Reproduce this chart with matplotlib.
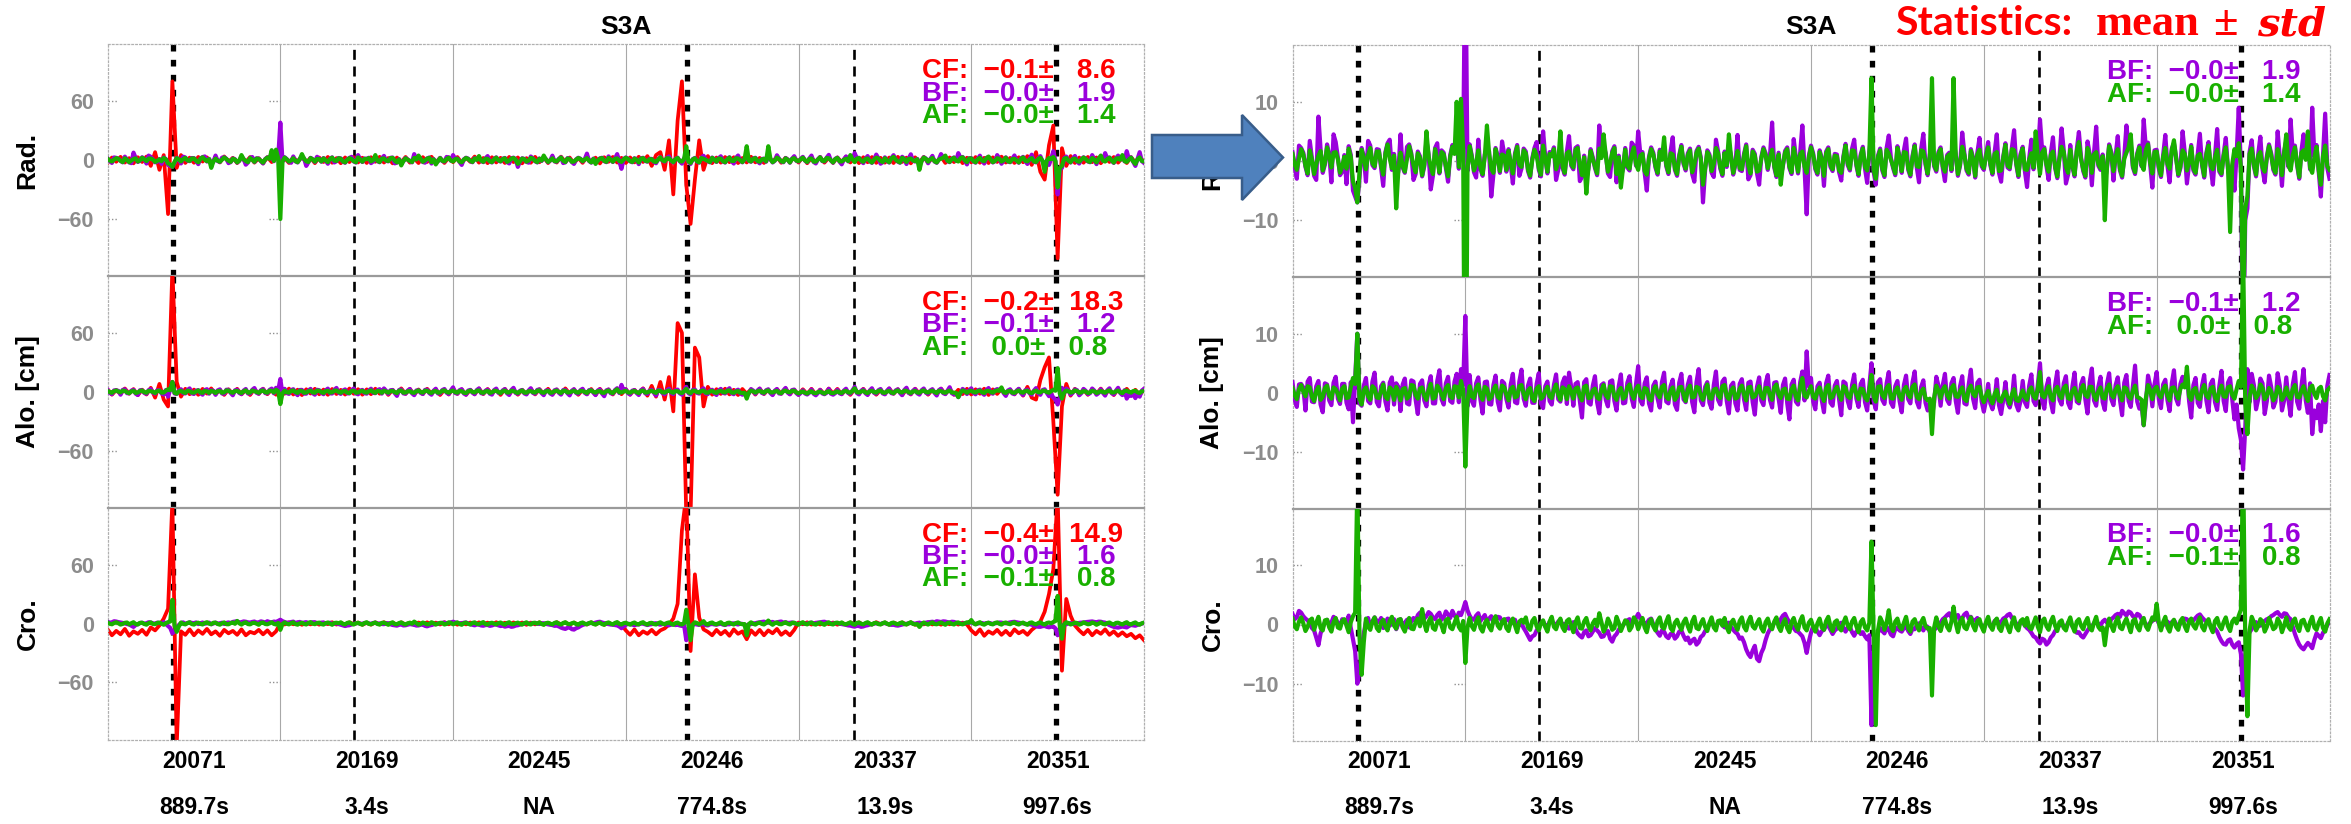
import numpy as np
import matplotlib
matplotlib.use("Agg")
import matplotlib.pyplot as plt
from matplotlib.patches import Polygon
from matplotlib.transforms import blended_transform_factory

plt.rcParams['lines.scale_dashes'] = False
plt.rcParams['font.family'] = ['Liberation Sans', 'DejaVu Sans']
plt.rcParams['axes.unicode_minus'] = True

# ---------------- data ----------------
panel_title = "S3A"
component_labels = ["Rad.", "Alo. [cm]", "Cro."]
day_labels = ["20071", "20169", "20245", "20246", "20337", "20351"]
duration_labels = ["889.7s", "3.4s", "NA", "774.8s", "13.9s", "997.6s"]
event_x = [0.38, 1.425, 3.355, 4.32, 5.49]
event_thick = [True, False, True, False, True]

cf_mean = [-0.1, -0.2, -0.4]
cf_std = [8.6, 18.3, 14.9]
bf_mean = [-0.0, -0.1, -0.0]
bf_std = [1.9, 1.2, 1.6]
af_mean = [-0.0, 0.0, -0.1]
af_std = [1.4, 0.8, 0.8]

# ---- radial component ----
cf_rad = [
 -3.0, 2.5, -1.8, 3.2, -2.6, 1.9, -3.4, 2.8, -2.0, 3.5,
 -6.0, 8.0, -10.0, 5.0, -55.0, 80.0, -8.0, 5.0, -3.0, 2.4,
 -2.8, 3.1, -1.6, 2.7, -3.3, 2.0, -2.5, 3.6, -1.9, 2.2,
 -3.1, 2.6, -2.2, 3.0, -2.7, 1.8, -3.5, 2.9, -2.1, 3.3,
 -2.4, 2.0, -3.0, 2.7, -1.7, 3.4, -2.6, 2.2, -3.2, 2.5,
 -2.0, 3.1, -2.8, 1.9, -3.3, 2.6, -2.1, 3.0, -2.5, 2.3,
 -3.0, 2.8, -1.8, 3.2, -2.6, 2.0, -3.4, 2.5, -2.2, 3.1,
 -2.7, 1.7, -3.1, 2.9, -2.0, 3.3, -2.4, 2.1, -3.0, 2.6,
 -2.2, 3.0, -2.9, 2.3, -1.9, 3.5, -2.7, 2.0, -3.2, 2.8,
 -2.5, 2.2, -3.0, 3.1, -2.1, 2.6, -3.4, 1.9, -2.8, 3.2,
 -2.3, 2.7, -3.1, 2.0, -2.6, 3.4, -2.0, 2.5, -3.3, 2.1,
 -2.9, 3.0, -2.2, 2.4, -3.5, 2.8, -1.8, 3.1, -2.6, 2.2,
 -3.0, 2.6, -2.4, 3.3, -2.0, 4.0, -6.0, 5.0, 8.0, -10.0,
 20.0, -35.0, 40.0, 80.0, -25.0, -65.0, -20.0, 20.0, -10.0, 4.0,
 -3.2, 2.5, -2.7, 3.0, -2.2, 2.8, -3.1, 2.0, -2.5, 3.3,
 -2.4, 2.1, -3.0, 2.7, -1.9, 3.2, -2.8, 2.3, -2.2, 3.0,
 -2.6, 2.9, -3.3, 2.2, -2.0, 3.1, -2.7, 2.4, -3.0, 2.6,
 -2.1, 3.4, -2.5, 2.0, -3.2, 2.8, -2.3, 3.0, -2.9, 2.2,
 -2.7, 2.5, -3.1, 3.2, -2.0, 2.4, -3.4, 2.7, -2.2, 3.1,
 -2.8, 2.0, -2.5, 3.3, -3.0, 2.6, -2.1, 2.9, -3.2, 2.3,
 -2.4, 3.0, -2.8, 2.2, -3.1, 2.7, -2.0, 3.4, -2.6, 2.1,
 -3.0, 2.8, -2.3, 4.0, -5.0, 8.0, -12.0, -20.0, 15.0, 35.0,
 -100.0, 12.0, -6.0, 4.0, -3.0, 2.5, -2.8, 3.1, -2.2, 2.6,
 -3.3, 2.4, -2.0, 3.0, -2.7, 2.2, -3.1, 2.9, -2.5, 3.2,
 -2.0]

bf_rad = [
 1.5, -1.0, -3.0, 2.6, 2.2, 1.4, -1.0, -2.4, 3.4, 0.5, -2.5, -3.2, 7.5, 2.0, -2.0, -0.6, 2.8, 1.1, -3.6, 4.5,
 3.2, 0.6, -2.4, -1.8, 1.0, -3.9, 2.5, 1.0, -5.0, -6.0, -7.0, -3.0, 2.2, 0.8, -3.5, 3.4, 2.6, -0.7, -1.2, 2.0,
 1.9, -1.1, -4.2, 1.5, 3.0, 3.6, -1.5, 1.2, -3.0, -1.8, 4.5, -1.1, -2.0, 2.4, 2.8, 1.3, -3.2, -2.2, 1.6, 0.8,
 -2.6, -0.9, 3.5, 1.1, -4.8, -2.5, 2.2, 3.0, -2.1, 1.8, 1.4, -1.2, -3.5, 1.0, 2.7, 1.5, 4.0, -1.3, 6.0, 2.1,
 38.0, -1.7, 2.8, 0.9, -1.9, -2.8, 3.6, -1.4, -2.5, 1.1, 2.0, 1.6, -6.0, -2.3, 2.2, 0.8, -2.0, 3.3, 1.2, -1.8,
 2.0, -0.6, -3.8, 1.3, 2.7, -2.5, -1.3, 2.1, 1.6, -1.7, -2.8, 0.5, 2.2, 3.2, -1.5, -2.6, 5.0, 0.7, -2.1, 1.5,
 1.1, 2.3, -3.2, -1.5, 3.0, -1.2, -2.3, 1.6, 4.2, -0.8, -1.4, 2.2, 2.5, -3.4, -2.7, 0.9, -3.0, -1.3, 2.0, 0.6,
 -1.2, -2.4, 6.0, 0.8, 2.5, 1.3, -2.1, -2.7, 1.7, 2.5, -3.6, 0.9, -2.5, -1.4, 2.2, -1.1, -1.6, 3.1, 2.6, -0.8,
 5.0, 1.2, 1.5, -2.0, -5.0, 0.7, 2.3, 1.4, -1.1, -2.3, 1.9, 0.5, 2.5, -0.9, -2.2, 1.6, 4.0, -1.5, -2.5, 1.0,
 2.7, -0.5, -1.6, 1.3, 2.1, -2.2, -3.5, 1.7, 2.4, 0.6, -7.0, -1.5, 1.8, 1.1, -2.0, -2.7, 3.6, 1.6, -1.3, -2.5,
 1.6, -1.0, 2.6, 0.9, -2.3, -0.6, 4.4, -1.5, -1.7, 1.2, 2.8, -3.1, -2.4, 1.9, 1.2, -2.1, -4.0, 0.7, 2.3, 1.3,
 -1.5, 0.8, 6.5, -1.1, -2.7, 1.4, -2.5, -0.9, 1.7, 2.3, -1.2, -2.2, 3.7, 0.6, -2.1, 1.5, 6.0, -1.2, -9.0, 0.9,
 2.6, 1.3, -1.4, -2.3, 1.8, 0.5, -4.2, 1.6, 2.3, -1.0, -1.7, 1.2, 1.1, -1.9, -3.3, 0.8, 2.9, -0.7, -1.6, 2.1,
 3.6, -0.8, -2.5, 1.1, 2.4, -1.3, -3.7, 1.5, 5.0, -1.8, -4.0, 0.9, 2.1, -1.6, -2.7, 2.2, 4.3, 0.5, -1.2, -2.4,
 2.5, 0.7, -2.0, 1.8, 3.8, -1.5, -2.6, 0.9, 2.8, -1.2, -3.6, 2.1, 4.6, -0.6, -2.4, 1.1, 3.0, -0.9, -1.8, 1.5,
 2.3, -1.2, -3.4, 1.0, 1.4, -1.7, 3.3, 1.2, -2.5, -0.8, 4.8, 1.3, -1.6, -2.3, 2.0, 0.6, -2.8, 1.4, 3.9, -0.9,
 -1.5, 1.1, 3.2, -0.7, -2.3, 1.5, 4.5, -2.0, -3.5, 0.8, 3.0, -1.1, -1.4, 2.3, 5.2, -0.6, -2.7, 1.2, 2.4, -1.7,
 -4.4, 0.5, 3.6, -1.4, 2.9, 1.0, 7.0, 1.7, 2.3, -0.9, -3.2, 1.3, 4.0, -1.2, -2.9, 0.7, 5.5, 1.8, -3.8, -2.3,
 2.7, -1.0, -2.6, 1.9, 4.9, 0.6, -1.7, -2.8, 3.3, 1.2, -4.1, 1.4, 5.8, -0.8, -1.5, 1.1, -3.5, -1.2, 2.8, 1.5,
 -3.3, 0.9, 4.2, -1.6, -2.8, 0.7, 6.0, 2.6, 3.0, -1.1, -2.2, 1.3, 2.6, -0.9, 7.0, 2.2, 3.1, -0.6, -4.5, 1.8,
 1.9, -1.3, -2.7, 1.0, 4.4, -0.8, -3.6, 2.1, 3.0, 0.7, -2.5, -1.2, 5.0, 1.5, -3.8, -0.5, 2.7, -1.6, -2.3, 1.2,
 4.6, -0.7, -2.8, 1.4, 3.2, -1.1, -4.0, 0.9, 5.4, -1.8, -2.4, 1.2, 3.9, -1.3, -3.3, -0.8, -5.0, 1.1, 9.0, -1.5,
 -35.0, -10.0, -8.0, 1.5, 3.5, -0.9, -2.6, 1.2, 4.1, -1.4, -3.6, 0.8, 2.8, 1.3, -1.5, -2.3, 5.0, 0.6, -4.2, 1.6,
 3.4, -1.0, 7.0, 1.3, 2.6, -0.7, -3.0, 1.7, 4.5, 0.5, 3.8, -1.4, 9.0, 0.9, 2.7, -1.8, -6.0, 1.1, 8.0, -1.2,
 -3.0]

af_rad = [
 1.2, -0.6, -1.5, 0.4, 2.0, 1.1, -0.8, -2.1, 1.8, 0.2, -2.2, -0.5, 0.9, 1.7, -1.6, -0.3, 2.3, 0.8, -1.1, 1.4,
 1.5, 0.3, -2.0, -0.9, 0.7, -1.3, 2.1, 0.6, -3.5, -4.5, -7.0, -2.0, 1.9, 0.5, -1.4, 1.0, 2.2, -0.4, -0.9, 1.6,
 1.6, -0.7, -2.3, 1.2, 2.8, 0.4, -1.2, 0.9, -8.0, -1.5, 1.4, -0.8, -1.8, 0.3, 2.5, 1.0, -0.7, -1.9, 1.3, 0.5,
 -2.4, -0.6, 5.0, 0.8, -1.0, -2.2, 2.0, 0.3, -1.9, 1.5, 1.1, -0.9, -2.6, 0.7, 2.4, 1.2, 10.0, -1.0, 10.5, 1.8,
 -60.0, -1.4, 2.5, 0.6, -1.6, -0.4, 1.8, -1.1, -2.2, 0.8, 6.0, 1.3, -1.3, -2.0, 2.0, 0.5, -1.7, 1.1, 0.9, -1.5,
 1.7, -0.3, -2.1, 1.0, 2.4, -0.6, -1.0, 1.8, 1.3, -1.4, -2.5, 0.2, 1.9, 0.9, -1.2, -2.3, 2.6, 0.4, -1.8, 1.2,
 0.8, 2.0, -1.4, -0.2, 5.0, -0.9, -2.0, 1.3, 1.6, -0.5, -1.1, 1.9, 2.2, -0.7, -2.4, 0.6, -5.5, -1.0, 1.7, 0.3,
 -0.9, -2.1, 2.1, 0.5, 4.5, 1.0, -1.8, -0.4, 1.4, 2.2, -2.2, 0.6, -4.5, -1.1, 1.9, -0.8, -1.3, 1.0, 2.3, -0.5,
 -1.5, 0.9, 1.2, -1.7, -2.3, 0.4, 2.0, 1.1, -0.8, -2.0, 1.6, 0.2, 4.0, -0.6, -1.9, 1.3, 1.1, -1.2, -2.2, 0.7,
 2.4, -0.2, -1.3, 1.0, 1.8, -1.9, -0.6, 1.4, 2.1, 0.3, -4.0, -1.2, 1.5, 0.8, -1.7, -0.4, 2.2, 1.3, -1.0, -2.2,
 1.3, -0.7, 4.5, 0.6, -2.0, -0.3, 1.7, -1.2, -1.4, 0.9, 2.5, -0.8, -2.1, 1.6, 0.9, -1.8, -1.6, 0.4, 2.0, 1.0,
 -1.2, 0.5, 1.9, -0.8, -2.4, 1.1, -4.0, -0.6, 1.4, 2.0, -0.9, -1.9, 2.2, 0.3, -1.8, 1.2, 1.6, -0.9, -2.0, 0.6,
 2.3, 1.0, -1.1, -2.0, 1.5, 0.2, -2.5, 1.3, 2.0, -0.7, -1.4, 0.9, 0.8, -1.6, -2.0, 0.5, 2.6, -0.4, -1.3, 1.8,
 1.7, -0.5, -2.2, 0.8, 2.1, -1.0, -1.6, 1.2, 14.0, -1.5, -3.0, 0.6, 1.8, -1.3, -2.4, 1.9, 1.2, 0.2, -0.9, -2.1,
 2.2, 0.4, -1.7, 1.5, 1.4, -1.2, -2.3, 0.6, 2.5, -0.9, -1.0, 1.8, 1.6, -0.3, -2.1, 0.8, 14.0, -0.6, -1.5, 1.2,
 2.0, -0.9, -1.8, 0.7, 1.1, -1.4, 14.0, 0.9, -2.2, -0.5, 2.4, 1.0, -1.3, -2.0, 1.7, 0.3, -2.5, 1.1, 1.9, -0.6,
 -1.2, 0.8, 2.3, -0.4, -2.0, 1.2, 1.5, -1.7, -1.6, 0.5, 2.7, -0.8, -1.1, 2.0, 1.8, -0.3, -2.4, 0.9, 2.1, -1.4,
 -1.5, 0.2, 1.3, -1.1, 5.0, 0.7, -2.2, 1.4, 2.0, -0.6, -1.8, 1.0, 1.6, -0.9, -2.6, 0.4, 2.4, 1.5, -1.0, -2.0,
 1.9, -0.7, -2.3, 1.6, 3.2, 0.3, -1.4, -2.5, 2.2, 0.9, -2.0, 1.1, 1.5, -0.5, -1.2, 0.8, -10.0, -0.9, 2.5, 1.2,
 -1.7, 0.6, 2.0, -1.3, -2.5, 0.4, 1.4, 2.3, 4.5, -0.8, -1.9, 1.0, 2.3, -0.6, -1.5, 1.9, 2.8, -0.3, -2.1, 1.5,
 1.6, -1.0, -2.4, 0.7, 2.2, -0.5, -1.3, 1.8, 3.5, 0.4, -2.2, -0.9, 1.8, 1.2, -1.6, -0.2, 2.4, -1.3, -2.0, 0.9,
 1.2, -0.4, -2.5, 1.1, 2.6, -0.8, -1.4, 0.6, 1.9, -1.5, -2.1, 0.9, 2.3, -1.0, -12.0, -0.5, 2.0, 0.8, 3.0, -1.2,
 -28.0, -8.0, -6.0, 1.2, 2.1, -0.6, -2.3, 0.9, 1.5, -1.1, -1.8, 0.5, 2.5, 1.0, -1.2, -2.0, 2.0, 0.3, -2.4, 1.3,
 4.5, -0.7, -1.6, 1.0, 2.3, -0.4, -2.7, 1.4, 1.8, 0.2, 5.0, -1.1, -2.0, 0.6, 2.4, -1.5, -4.0, 0.8, 2.6, -0.9,
 -1.5]

# ---- along-track component ----
cf_alo = [
 2.6, -3.0, 1.8, -2.4, 3.3, -2.0, 2.7, -3.5, 2.1, -2.8,
 4.0, -6.0, 8.0, -8.0, -15.0, 125.0, 10.0, -5.0, 3.0, -2.5,
 2.2, -3.1, 2.9, -1.9, 3.4, -2.6, 2.0, -3.2, 2.5, -2.1,
 3.0, -2.7, 1.7, -3.3, 2.8, -2.2, 3.1, -2.5, 2.3, -3.0,
 2.7, -2.0, 3.2, -2.8, 2.1, -3.4, 2.5, -1.8, 3.0, -2.6,
 2.2, -3.1, 2.8, -2.3, 1.9, -2.9, 3.3, -2.1, 2.6, -3.0,
 2.4, -2.5, 3.1, -2.0, 2.7, -3.2, 2.0, -2.7, 3.4, -2.2,
 2.9, -3.0, 2.3, -2.4, 3.0, -1.9, 2.6, -3.3, 2.1, -2.8,
 3.2, -2.2, 2.5, -3.1, 2.0, -2.6, 3.3, -2.4, 2.8, -2.0,
 2.2, -3.2, 2.9, -2.5, 2.4, -3.0, 2.0, -2.3, 3.1, -2.7,
 2.6, -2.1, 3.0, -2.9, 2.3, -2.4, 3.4, -2.0, 2.5, -3.1,
 2.1, -2.6, 2.8, -3.3, 3.0, -2.2, 2.4, -2.8, 3.2, -2.5,
 2.7, -3.0, 2.0, -2.4, 3.5, -4.0, 6.0, -5.0, 10.0, -8.0,
 15.0, -20.0, 70.0, 60.0, -125.0, -125.0, 45.0, 35.0, -15.0, 5.0,
 -3.0, 2.6, -2.2, 3.1, -2.7, 2.0, -3.3, 2.8, -2.1, 2.4,
 -2.9, 3.2, -2.4, 2.2, -3.0, 2.7, -2.0, 3.4, -2.6, 2.1,
 -3.1, 2.5, -2.3, 3.0, -2.8, 2.2, -2.5, 3.3, -2.0, 2.9,
 -2.6, 2.1, -3.2, 2.8, -2.2, 3.0, -2.7, 2.4, -3.0, 2.0,
 -2.5, 3.3, -2.1, 2.6, -3.4, 2.3, -2.8, 3.1, -2.0, 2.7,
 -3.0, 2.2, -2.6, 3.2, -2.3, 2.9, -3.1, 2.0, -2.4, 3.0,
 -2.8, 2.5, -2.0, 3.1, -3.3, 2.4, -2.2, 2.8, -3.0, 2.1,
 -2.7, 3.0, -4.0, 5.0, -6.0, -8.0, 12.0, 25.0, 35.0, -30.0,
 -105.0, -15.0, 8.0, -4.0, 3.0, -2.6, 2.2, -3.1, 2.7, -2.0,
 3.2, -2.8, 2.3, -3.4, 2.6, -2.1, 3.0, -2.5, 2.0, -3.5,
 2.4]

bf_alo = [
 1.8, -1.2, -2.4, 1.4, 1.5, 0.9, -3.0, 1.9, 2.5, -1.5, -1.6, 1.1, 2.0, -2.0, -3.3, 1.6, 1.4, -1.3, -2.1, 1.7,
 2.7, -1.0, -1.9, 1.5, 1.5, -1.7, -2.8, 1.8, -5.0, 2.3, 10.0, -1.8, -2.2, 1.2, 2.5, -1.4, -1.8, 1.9, 3.4, -1.6,
 -2.3, 1.1, 1.7, -1.5, -3.0, 1.7, 2.6, -2.0, 1.6, 1.0, -3.1, 1.4, 2.4, -1.8, -2.0, 2.1, 1.9, -1.2, -3.6, 1.5,
 2.1, -1.3, -2.3, 1.2, 2.8, -1.8, -1.8, 2.0, 3.8, -1.1, -2.0, 1.6, 2.7, -1.4, -1.7, 1.9, 3.2, -1.6, 4.0, 1.3,
 13.0, -2.3, 3.0, -1.4, -2.2, 1.6, 2.6, -1.2, -3.5, 1.8, 1.9, -1.9, -2.0, 1.3, 2.9, -1.5, -3.0, 2.0, 1.6, -1.1,
 -2.5, 1.4, 3.2, -1.6, -1.8, 1.9, 3.9, -1.0, -2.2, 1.2, 2.4, -1.7, -1.7, 1.5, 3.3, -1.8, -2.6, 1.1, 1.9, -1.4,
 -2.0, 1.3, 3.1, -1.1, -1.5, 1.7, 2.6, -1.9, 3.4, 1.0, -2.2, 1.5, 1.8, -1.4, -4.2, 1.8, 2.3, -1.7, -2.0, 1.2,
 2.8, -1.6, -3.5, 1.3, 1.6, -1.2, -2.3, 1.9, 2.1, -1.4, -3.0, 1.1, 3.1, -1.8, -1.7, 1.7, 2.8, -1.0, -2.4, 1.4,
 4.5, -1.3, -2.0, 1.6, 2.6, -1.8, -3.0, 1.2, 1.9, -1.0, -2.5, 1.8, 3.4, -1.5, -1.8, 1.1, 2.2, -2.0, -2.9, 1.7,
 3.2, -1.1, -1.6, 1.4, 2.7, -1.6, -3.3, 1.8, 4.0, -1.3, -2.1, 1.0, 1.8, -1.7, -2.7, 1.3, 3.6, -1.2, -2.0, 1.9,
 2.4, -1.4, -3.5, 1.2, 1.7, -1.8, -3.0, 1.5, 2.3, -1.1, -2.9, 1.7, 1.9, -1.6, -3.7, 1.0, 2.6, -1.3, -2.1, 1.6,
 3.0, -1.2, -2.5, 1.7, 1.8, -1.0, -3.4, 1.3, 2.4, -1.8, -4.5, 1.4, 2.2, -1.5, -2.0, 1.8, 3.6, -1.3, 7.0, 1.1,
 2.5, -1.5, -2.8, 1.1, 1.7, -1.3, -3.3, 1.6, 2.9, -1.7, -2.2, 1.2, 2.0, -1.1, -3.8, 1.9, 1.6, -1.4, -2.6, 1.3,
 3.1, -1.0, -2.4, 1.5, 2.2, -1.6, -3.0, 1.2, 5.0, -1.4, -2.8, 1.8, 2.3, -1.2, -1.9, 1.6, 3.5, -1.7, -2.4, 1.1,
 2.0, -1.4, -3.3, 1.3, 2.9, -1.1, -1.8, 1.8, 3.6, -1.5, -2.5, 1.0, 2.1, -1.7, -3.0, -1.8, -4.0, -1.6, 2.7, 1.2,
 -2.2, 1.3, 3.2, -1.2, -1.9, 1.6, 2.5, -1.4, -3.4, 1.1, 2.8, -1.8, -2.0, 1.4, 3.9, -1.0, -2.6, 1.7, 2.2, -1.5,
 -3.2, -1.3, 1.5, -1.8, -2.8, -1.0, 2.3, -2.1, -3.6, -1.2, 1.8, -1.7, -2.5, -1.1, 2.9, -2.0, -3.0, -1.4, 2.0, -1.6,
 -2.4, 1.2, 3.1, -1.4, -2.1, 1.5, 5.0, -1.3, -2.7, 1.0, 2.4, -1.6, -3.3, 1.3, 3.6, -1.2, -2.0, 1.6, 2.8, -1.7,
 -2.6, 1.1, 3.4, -1.5, -1.8, 1.4, 2.5, -1.2, -3.5, 1.8, 4.1, -1.3, -2.2, 1.0, 2.7, -1.6, -2.9, 1.5, 3.3, -1.1,
 -2.1, 1.3, 2.6, -1.2, -3.8, 1.7, 3.0, -1.4, -2.4, 1.1, 4.6, -1.5, -2.7, -2.0, -5.5, -1.7, 2.9, 1.2, -2.3, 1.4,
 3.5, -1.1, -2.6, 1.4, 2.2, -1.3, -3.1, 1.6, 3.8, -1.0, -2.0, 1.5, 2.7, 1.7, 3.4, -1.4, -4.2, 1.3, 2.5, -1.7,
 -2.4, 1.2, 3.0, -1.3, -3.3, 1.5, 2.2, -1.6, -2.9, 1.1, 3.7, -1.4, -3.1, 1.7, 2.5, -1.2, -4.5, -2.0, -6.0, -8.0,
 -13.0, -6.0, 4.0, -1.6, 3.2, 1.3, -2.8, -1.1, 2.4, 1.6, -3.6, -1.4, 2.9, 1.0, -2.5, -1.5, 3.3, 1.2, -3.0, -1.3,
 2.6, -1.2, -3.9, 1.4, 3.5, -1.5, -2.7, 1.1, 4.0, -1.3, -3.4, 1.6, -7.0, -3.0, -4.3, -2.0, -6.5, -1.4, -5.0, 1.2,
 3.0]

af_alo = [
 0.8, -0.4, -1.1, 0.6, 1.3, 0.2, -0.6, 1.1, 0.9, -0.7, -1.4, 0.3, 1.0, -1.2, -0.7, 0.8, 1.2, -0.5, -1.0, 0.9,
 0.6, -0.2, -1.3, 0.7, 1.1, -0.9, -0.8, 1.0, 2.5, 1.5, 10.0, -1.0, -2.0, 0.4, 0.9, -0.6, -1.2, 1.1, 0.7, -0.8,
 -0.9, 0.3, 1.4, -0.7, -1.1, 0.9, 0.5, -1.2, 1.0, 0.2, -1.3, 0.6, 0.8, -1.0, -0.6, 1.3, 1.2, -0.4, -1.0, 0.7,
 0.9, -0.5, -1.2, 0.4, 1.5, -1.0, -0.8, 1.2, 0.6, -0.3, -1.1, 0.8, 1.3, -0.6, -0.9, 1.1, 1.0, -0.8, 2.0, 0.5,
 -12.5, -1.5, 1.1, -0.6, -0.9, 0.8, 1.4, -0.4, -1.2, 1.0, 0.7, -1.1, -0.8, 0.5, 1.2, -0.7, -1.0, 1.2, 0.9, -0.3,
 -1.3, 0.6, 1.0, -0.8, -0.6, 1.1, 1.3, -0.2, -1.1, 0.4, 0.8, -0.9, -1.4, 0.7, 1.1, -1.0, -0.7, 0.3, 1.0, -0.6,
 -0.9, 0.5, 1.4, -0.3, -1.2, 0.9, 0.6, -1.1, 1.1, 0.2, -1.0, 0.7, 0.9, -0.6, -1.3, 1.0, 1.2, -0.9, -0.8, 0.4,
 0.7, -0.8, -1.1, 0.5, 1.3, -0.4, -0.9, 1.1, 1.0, -0.6, -1.2, 0.3, 0.8, -1.0, -0.7, 0.9, 1.4, -0.2, -1.0, 0.6,
 1.2, -0.5, -0.9, 0.8, 0.6, -1.0, -1.3, 0.4, 1.1, -0.2, -0.8, 1.0, 1.3, -0.7, -1.1, 0.3, 0.9, -1.2, -0.6, 0.9,
 1.0, -0.3, -1.4, 0.6, 1.2, -0.8, -0.7, 1.0, 0.8, -0.5, -1.2, 0.2, 1.4, -0.9, -1.0, 0.5, 0.7, -0.4, -0.9, 1.1,
 1.3, -0.6, -1.1, 0.4, 0.9, -1.0, -0.8, 0.7, 1.2, -0.3, -1.3, 0.9, 1.0, -0.8, -0.6, 0.2, 1.1, -0.5, -1.0, 0.8,
 0.8, -0.4, -1.2, 0.9, 1.4, -0.2, -0.9, 0.5, 0.7, -1.0, -1.1, 0.6, 1.2, -0.7, -1.3, 1.0, 2.5, -0.5, -0.8, 0.3,
 1.1, -0.7, -1.0, 0.3, 0.9, -0.5, -1.4, 0.8, 1.3, -0.9, -0.7, 0.4, 1.0, -0.3, -1.2, 1.1, 0.8, -0.6, -0.9, 0.5,
 1.2, -0.2, -1.1, 0.7, 0.6, -0.8, -1.3, 0.4, 3.0, -0.6, -1.5, 1.0, 1.1, -0.4, -0.9, 0.8, 1.3, -0.9, -1.0, 0.3,
 0.9, -0.6, -1.2, 0.5, 1.0, -0.3, -0.8, 1.0, 1.4, -0.7, -1.1, 0.2, 0.7, -0.9, -1.3, -1.0, -7.0, -0.8, 1.2, 0.4,
 -0.9, 0.5, 1.1, -0.4, -1.0, 0.8, 1.3, -0.6, -0.7, 0.3, 0.9, -1.0, -1.4, 0.6, 1.2, -0.2, -0.6, 0.9, 1.0, -0.7,
 -1.6, -0.5, 0.3, -1.0, -1.8, -0.2, 0.5, -1.3, -1.5, -0.4, 0.2, -0.9, -1.9, -0.3, 0.6, -1.2, -1.4, -0.6, 0.4, -0.8,
 -1.2, 0.4, 0.9, -0.6, -1.0, 0.7, 3.5, -0.5, -0.8, 0.2, 1.1, -0.8, -1.3, 0.5, 1.0, -0.4, -0.9, 0.8, 1.2, -0.9,
 -1.1, 0.3, 0.8, -0.7, -1.4, 0.6, 1.3, -0.4, -0.7, 1.0, 1.0, -0.5, -1.2, 0.2, 0.9, -0.8, -1.0, 0.7, 1.4, -0.3,
 -0.8, 0.5, 1.1, -0.4, -1.3, 0.9, 0.7, -0.6, -1.0, 0.3, 1.2, -0.7, -0.9, -1.2, -5.5, -0.9, 1.3, 0.4, -1.1, 0.6,
 1.0, -0.3, -0.8, 0.6, 1.2, -0.5, -1.3, 0.8, 0.9, -0.2, -1.0, 0.7, 1.4, 0.9, 4.4, -0.6, -1.2, 0.5, 0.8, -0.9,
 -1.1, 0.4, 1.3, -0.5, -0.9, 0.7, 1.0, -0.8, -1.4, 0.3, 1.2, -0.6, -0.7, 0.9, 1.1, -0.4, -1.0, 0.6, 2.0, 1.0,
 24.0, -2.0, -7.0, -0.8, 1.2, 0.5, -0.9, -0.3, 1.4, 0.8, -1.1, -0.6, 0.8, 0.2, -1.3, -0.7, 1.0, 0.4, -1.2, -0.5,
 0.9, -0.4, -1.0, 0.6, 1.3, -0.7, -0.8, 0.3, 1.1, -0.5, -1.4, 0.8, 1.2, -0.2, -0.9, 0.7, 1.0, -0.6, -1.3, 0.4,
 0.8]

# ---- cross-track component ----
cf_cro = [
 -6.0, -12.0, -7.5, -11.0, -5.5, -12.5, -8.0, -10.5, -6.5, -11.5,
 -4.0, -7.0, -2.0, 5.0, 15.0, 125.0, -125.0, -8.0, -11.5, -6.0,
 -12.0, -7.0, -10.5, -5.5, -11.0, -8.0, -12.5, -6.5, -10.0, -7.5,
 -11.5, -6.0, -12.0, -8.5, -10.0, -6.5, -11.0, -7.0, -12.0, -8.0,
 0.5, -1.0, 1.2, -0.8, 1.0, -1.3, 0.7, -0.9, 1.1, -1.2,
 0.9, -0.7, 1.3, -1.1, 0.8, -1.0, 1.2, -0.6, 1.0, -1.3,
 0.7, -1.2, 1.1, -0.9, 1.3, -0.8, 0.9, -1.1, 1.2, -1.0,
 0.8, -1.3, 1.0, -0.7, 1.2, -1.1, 0.9, -1.0, 1.3, -0.8,
 1.1, -1.2, 0.7, -0.9, 1.0, -1.3, 1.2, -0.8, 0.9, -1.1,
 1.3, -1.0, 0.8, -1.2, 1.1, -0.7, 1.0, -1.3, 0.9, -0.9,
 1.2, -1.1, 0.7, -1.0, 1.3, -0.8, 1.0, -1.2, 0.9, -1.1,
 0.8, -1.0, 1.2, -0.9, 1.1, -1.3, 0.7, -1.0, 1.0, -1.2,
 -7.0, -11.5, -6.0, -12.0, -8.0, -10.5, -6.5, -11.0, -7.0, -5.0,
 -1.0, 5.0, 20.0, 95.0, 130.0, -28.0, 50.0, 6.0, -6.0, -8.5,
 -12.0, -6.5, -11.0, -7.5, -12.5, -6.0, -10.5, -8.0, -16.0, -7.0,
 -11.5, -6.5, -12.0, -7.0, -10.0, -5.5, -11.5, -8.0, -12.0, -6.5,
 1.0, -0.8, 1.2, -1.1, 0.9, -1.0, 1.3, -0.7, 1.0, -1.2,
 0.8, -1.1, 1.1, -0.9, 1.2, -1.3, 0.7, -1.0, 1.3, -0.8,
 1.0, -1.2, 0.9, -0.7, 1.1, -1.0, 1.2, -1.3, 0.8, -0.9,
 1.2, -1.0, 0.7, -1.2, 1.0, -0.8, 1.3, -1.1, 0.9, -1.0,
 -7.0, -11.0, -6.0, -12.5, -8.0, -10.5, -6.5, -11.5, -7.5, -12.0,
 -6.0, -10.0, -7.5, -11.5, -6.5, -3.0, 2.0, 12.0, 30.0, 55.0,
 130.0, -48.0, 25.0, 8.0, -2.0, -7.0, -11.0, -6.5, -12.0, -7.5,
 -10.5, -6.0, -11.5, -8.0, -12.5, -9.0, -13.0, -10.5, -15.0, -12.0,
 -17.0]

bf_cro = [
 1.8, 0.9, 1.2, 2.3, 2.0, 1.4, 1.0, 0.7, 0.2, -0.6, -1.0, -2.2, -3.5, -1.5, -0.5, 0.4, 0.8, -0.2, 0.3, 1.3,
 1.0, 0.2, -0.4, 0.9, 0.6, 0.1, 1.5, -0.6, -2.5, -4.5, -10.0, -8.0, -4.0, -1.5, 0.5, 1.1, -0.3, 0.4, 1.2, 0.6,
 0.4, 1.1, -0.6, 0.3, 1.0, -0.2, 0.2, 0.9, -0.8, 0.1, 0.9, -0.4, 0.3, 0.8, -0.5, 0.6, 1.1, 0.5, 1.6, 2.0,
 2.2, 1.0, 1.4, 2.1, 1.8, 1.2, 0.9, 1.6, 2.0, 0.8, 1.2, 2.2, 1.7, 1.1, 2.3, 1.5, 1.0, 2.0, 1.6, 2.6,
 3.8, 2.4, 1.5, 0.9, 0.8, 1.5, 1.9, 0.6, 1.1, 1.6, 0.5, 1.0, 1.4, 0.3, 0.7, 1.3, 1.2, 0.5, 0.3, 0.9,
 1.0, 0.1, 0.4, 0.8, -0.5, -0.1, 0.2, -0.6, -1.2, -1.9, -2.6, -2.0, -1.8, -1.0, -0.4, 0.2, 0.5, -0.3, -0.2, 0.4,
 0.6, 0.2, -0.3, 0.5, 0.8, -0.2, 0.1, -0.5, -0.7, 0.1, 0.4, -0.8, -1.5, -1.9, -2.2, -1.3, -1.0, -2.0, -1.8, -1.2,
 -0.6, -1.0, -1.4, -2.1, -2.0, -1.3, -1.1, -2.4, -2.9, -2.0, -1.6, -0.9, -0.5, -0.1, 0.3, 0.7, 0.9, 0.2, 0.5, 1.1,
 1.8, 1.1, 0.7, 0.1, 0.2, 0.8, 1.0, 0.0, -0.8, -1.4, -1.9, -1.0, -1.2, -2.0, -2.3, -1.6, -1.5, -2.4, -2.0, -1.2,
 -1.0, -1.9, -2.6, -2.2, -3.2, -2.7, -2.4, -3.4, -3.0, -2.1, -1.8, -1.1, -0.6, 0.1, 0.4, -0.2, -0.3, 0.3, 0.6, -0.1,
 -0.5, 0.2, 0.3, -0.4, -0.9, -1.3, -1.6, -2.4, -2.2, -3.0, -4.2, -5.0, -5.5, -4.4, -3.6, -5.8, -6.2, -4.8, -4.0, -2.6,
 -1.5, -0.8, -0.4, 0.3, 0.5, 0.1, 0.9, 1.5, 1.8, 1.0, 0.4, -0.2, -0.6, -1.1, -1.2, -1.6, -2.0, -3.1, -4.8, -2.9,
 -1.4, -0.3, -0.5, -1.2, -1.8, -1.1, -0.9, -0.1, -0.2, -0.9, -1.6, -1.0, -0.7, 0.1, 0.3, -0.6, -1.2, -0.5, -0.4, -1.3,
 -1.9, -1.2, -0.8, -1.6, -1.3, -2.0, -2.5, -1.8, -17.0, -5.0, -3.0, -1.4, -0.6, -1.1, -1.5, -0.4, -0.9, -1.7, -2.0, -0.8,
 -0.5, -1.0, -1.2, -0.6, -0.3, -1.1, -1.6, -0.7, -0.8, -0.1, 0.2, -0.5, -1.0, -0.2, -0.4, -1.3, -1.8, -0.9, -0.6, 0.1,
 0.3, 0.9, 1.2, 1.6, 1.9, 1.2, 0.8, 1.4, 1.6, 0.7, 1.1, 1.7, 2.0, 1.0, 1.3, 0.6, 0.7, 1.1, 0.2, -0.3,
 -0.4, 0.2, 0.5, -0.3, -0.2, 0.6, 0.9, 0.1, 0.4, 1.0, 1.2, 1.6, 1.8, 1.1, 0.6, 0.2, -0.3, 0.4, 0.5, -0.2,
 -0.6, -0.9, -1.4, -2.0, -2.2, -2.8, -3.2, -2.4, -2.6, -3.4, -3.0, -2.2, -1.8, -1.1, -0.7, -0.1, 0.2, -0.4, -0.5, 0.3,
 0.4, -0.3, -0.8, -1.4, -1.3, -1.9, -2.2, -1.6, -1.0, -0.5, -0.3, 0.2, 0.6, 0.1, -0.2, 0.5, 0.8, 0.3, 0.1, 0.9,
 1.2, 1.6, 1.8, 1.3, 2.3, 1.9, 1.5, 2.2, 2.0, 1.4, 1.1, 1.8, 1.6, 0.9, 0.4, 0.1, -0.3, 0.3, 0.6, 0.9,
 1.0, 0.2, -0.5, -0.1, 0.3, 0.5, -0.2, 0.4, 0.7, 0.1, -0.4, 0.2, 0.5, 1.0, 0.9, 0.4, 0.2, 0.7, 1.1, 1.5,
 1.7, 1.2, 0.8, 0.5, 0.3, -0.2, -0.6, -0.7, -1.2, -2.1, -2.8, -3.3, -3.4, -2.7, -2.5, -3.4, -3.9, -3.3, -3.0, -5.0,
 -12.0, -5.0, -2.2, -1.3, -0.8, 0.1, 0.4, 0.0, -0.2, 0.3, 0.6, 0.9, 1.0, 1.4, 1.6, 1.9, 2.1, 1.6, 1.3, 1.9,
 1.8, 1.2, 0.9, -0.4, -1.6, -2.6, -3.4, -3.9, -4.2, -3.6, -3.1, -3.5, -4.0, -2.6, -1.5, -1.9, -2.3, -1.4, -0.8, -0.1,
 0.5]

af_cro = [
 1.0, -0.3, -0.8, 0.5, 1.2, 0.2, -1.1, -0.4, 0.7, 1.0, -0.9, 0.3, 1.3, -0.6, -1.0, 0.7, 0.8, -0.5, -1.2, 0.4,
 1.1, -0.5, -0.7, 0.6, 0.9, -0.2, -1.3, 0.4, 1.4, 2.0, 24.0, -2.0, -8.5, -3.0, 1.0, -0.4, -0.9, 0.5, 1.2, -0.6,
 -1.1, 0.3, 0.8, -0.4, -1.0, 0.6, 1.3, -0.2, -0.7, 0.8, 0.9, -0.5, -1.2, 0.2, 1.1, -0.7, -0.8, 0.4, 1.0, -0.3,
 2.6, 0.2, -1.1, 0.5, 1.2, -0.6, -0.9, 0.4, 0.7, -0.2, -1.3, 0.7, 1.0, -0.5, -0.8, 0.3, 1.3, -0.4, -1.0, 0.6,
 -6.5, -0.5, 1.1, -0.3, -0.9, 0.4, 1.2, -0.6, -1.2, 0.2, 0.8, -0.4, -1.0, 0.7, 1.4, -0.2, -0.7, 0.5, 0.9, -0.6,
 -1.1, 0.4, 1.0, -0.2, -1.3, 0.5, 0.8, 0.3, 1.2, -0.5, -0.9, 0.6, 1.1, -0.3, -1.0, 0.2, 0.7, -0.4, -1.2, 0.5,
 1.3, -0.4, -0.8, 0.3, 1.0, -0.5, -1.1, 0.6, 0.9, -0.2, -1.3, 0.4, 1.2, -0.6, -0.7, 0.5, 1.1, -0.3, -1.0, 0.2,
 0.8, -0.3, 1.9, 0.4, -1.2, -0.5, 1.0, 0.2, -0.9, -0.6, 1.3, 0.3, -1.1, -0.2, 0.7, 0.5, -1.0, -0.4, 1.2, 0.6,
 -0.8, 0.2, 1.1, -0.5, -1.3, 0.4, 0.9, -0.3, -1.0, 0.6, 1.2, -0.4, -0.7, 0.5, 1.4, -0.6, -1.1, 0.3, 0.8, -0.2,
 -0.9, 0.4, 1.0, -0.3, -1.2, 0.5, 1.3, -0.6, -0.8, 0.2, 0.9, -0.4, -1.1, 0.3, 1.2, -0.5, -1.0, 0.6, 0.7, -0.2,
 1.1, -0.5, -1.3, 0.3, 0.8, -0.2, -0.9, 0.6, 1.2, -0.4, -1.0, 0.5, 1.3, -0.3, -0.7, 0.2, 0.9, -0.6, -1.2, 0.4,
 1.0, -0.3, -0.8, 0.5, 1.2, -0.4, -1.1, 0.2, 0.9, -0.6, -1.3, 0.4, 1.1, -0.2, -0.9, 0.6, 1.4, -0.5, -1.0, 0.3,
 0.8, -0.4, -1.2, 0.2, 1.0, -0.5, -0.9, 0.6, 1.3, -0.3, -1.1, 0.4, 0.7, -0.6, -1.0, 0.3, 1.2, -0.2, -0.8, 0.5,
 1.1, -0.3, -1.3, 0.4, 0.9, -0.5, -1.0, 0.3, 14.0, -1.5, -17.0, -1.0, 1.2, 0.4, -0.9, 0.3, 2.4, -0.4, -1.1, 0.5,
 1.0, -0.4, -0.8, 0.3, 1.3, -0.6, -1.2, 0.5, 0.9, -0.2, -1.0, 0.4, 1.1, -0.3, -0.7, -0.6, -12.0, -0.5, 1.2, -0.3,
 -1.1, 0.3, 0.9, -0.4, -1.0, 0.5, 3.0, 0.2, -1.3, 0.4, 1.1, -0.5, -0.8, 0.3, 1.2, -0.2, -1.0, 0.6, 0.9, -0.4,
 -1.2, 0.4, 1.3, -0.3, -0.9, 0.5, 1.0, -0.6, -1.1, 0.2, 0.8, -0.4, -1.3, 0.3, 1.2, -0.5, -1.0, 0.6, 0.9, -0.2,
 1.1, -0.5, -0.8, 0.2, 1.2, -0.4, -1.3, 0.6, 1.0, -0.3, -0.9, 0.5, 1.3, -0.2, -1.1, 0.4, 0.7, -0.6, -1.0, 0.3,
 1.2, -0.3, -1.2, 0.5, 0.9, -0.2, -0.8, 0.4, 1.1, -0.6, -1.0, 0.3, 1.3, -0.4, -0.9, -0.5, -3.5, -0.6, 1.0, -0.2,
 -1.1, 0.4, 1.2, -0.5, -0.8, 0.3, 1.0, -0.2, -1.3, 0.6, 0.9, -0.4, -1.0, 0.5, 1.1, -0.3, -0.9, 0.2, 1.2, 0.8,
 3.5, 0.3, -1.0, 0.4, 1.3, -0.5, -1.2, 0.2, 0.8, -0.4, -0.9, 0.6, 1.1, -0.3, -1.1, 0.5, 1.0, -0.2, -0.7, 0.4,
 1.2, -0.4, -1.0, 0.3, 0.9, -0.5, -1.3, 0.6, 1.1, -0.2, -0.8, 0.4, 1.2, -0.3, -1.1, 0.5, 1.0, 0.2, 1.5, 2.5,
 28.0, -2.5, -15.5, -1.0, 1.3, 0.4, -1.0, -0.3, 0.9, 0.5, -1.2, -0.4, 1.1, 0.2, -0.8, -0.5, 1.0, 0.3, -1.3, -0.2,
 1.2, -0.4, -0.9, 0.5, 1.0, -0.3, -1.1, 0.6, 0.8, -0.2, -1.0, 0.4, 1.3, -0.5, -0.9, 0.3, 1.1, -0.6, -1.2, 0.2,
 0.9]

cf_series = [cf_rad, cf_alo, cf_cro]
bf_series = [bf_rad, bf_alo, bf_cro]
af_series = [af_rad, af_alo, af_cro]

# ---------------- layout ----------------
W, H, DPI = 2351, 824, 100
fig = plt.figure(figsize=(W / DPI, H / DPI), dpi=DPI)
fig.patch.set_facecolor('white')

C_CF, C_BF, C_AF = '#ff0000', '#9a00dc', '#19b000'
GRID_C = '#a8a8a8'
TICK_C = '#8c8c8c'
LW_CF = 2.7
LW = 3.0

panels = [
    dict(x0=107.6, x1=1144.0, rows=[(44, 276), (276, 507.5), (507.5, 739.5)],
         lim=118.0, ticks=[-60, 0, 60], show_cf=True),
    dict(x0=1292.5, x1=2329.5, rows=[(45, 277), (277, 508.5), (508.5, 740.5)],
         lim=19.6, ticks=[-10, 0, 10], show_cf=False),
]


def fmt(name, m, s):
    return (f"{name}: {m:5.1f}\u00b1{s:6.1f}").replace('-', '\u2212')


for p in panels:
    x0, x1 = p['x0'], p['x1']
    axes_list = []
    for r, (top, bot) in enumerate(p['rows']):
        ax = fig.add_axes([x0 / W, 1 - bot / H, (x1 - x0) / W, (bot - top) / H])
        axes_list.append(ax)
        ax.set_xlim(0, 6)
        ax.set_ylim(-p['lim'], p['lim'])
        ax.set_facecolor('none')
        for s in ['left', 'right', 'top', 'bottom']:
            ax.spines[s].set_linestyle((0, (1.2, 1.6)))
            ax.spines[s].set_color('#b0b0b0')
            ax.spines[s].set_linewidth(0.9)
        if r < 2:
            ax.spines['bottom'].set_linestyle('-')
            ax.spines['bottom'].set_color('#9a9a9a')
            ax.spines['bottom'].set_linewidth(1.6)
        if r > 0:
            ax.spines['top'].set_visible(False)
        ax.set_xticks([])
        ax.set_yticks(p['ticks'])
        ax.set_yticklabels([str(t).replace('-', '\u2212') for t in p['ticks']])
        ax.tick_params(axis='y', length=0, pad=10, labelsize=15.5,
                       labelcolor=TICK_C)
        for tl in ax.get_yticklabels():
            tl.set_fontweight('bold')
        # vertical day separators
        for g in range(1, 6):
            ax.axvline(g, color=GRID_C, lw=0.8, zorder=1)
        # maneuver markers
        for ex, thick in zip(event_x, event_thick):
            if thick:
                ax.axvline(ex, color='black', lw=3.8, linestyle=(0, (4.8, 6.0)),
                           zorder=1.5)
            else:
                ax.axvline(ex, color='black', lw=1.9, linestyle=(0, (7.2, 4.8)),
                           zorder=1.5)
        # small dotted tick stubs
        bt = blended_transform_factory(ax.transAxes, ax.transData)
        for t in p['ticks']:
            ax.plot([0, 0.01], [t, t], transform=bt, ls=(0, (1, 1.5)),
                    color='#909090', lw=1.0, clip_on=False, zorder=1)
            ax.plot([1 / 6 - 0.011, 1 / 6], [t, t], transform=bt,
                    ls=(0, (1, 1.5)), color='#909090', lw=1.0, zorder=1)
        # data
        if p['show_cf']:
            y = np.asarray(cf_series[r])
            ax.plot(np.linspace(0, 6, len(y)), y, color=C_CF, lw=LW_CF,
                    zorder=2)
        y = np.asarray(bf_series[r])
        ax.plot(np.linspace(0, 6, len(y)), y, color=C_BF, lw=LW, zorder=3)
        y = np.asarray(af_series[r])
        ax.plot(np.linspace(0, 6, len(y)), y, color=C_AF, lw=LW, zorder=4)
        # statistics text
        lines = []
        if p['show_cf']:
            lines.append((fmt('CF', cf_mean[r], cf_std[r]), C_CF))
        lines.append((fmt('BF', bf_mean[r], bf_std[r]), C_BF))
        lines.append((fmt('AF', af_mean[r], af_std[r]), C_AF))
        h = bot - top
        for k, (txt, col) in enumerate(lines):
            yc = 24 + 22.5 * k + 10  # baseline offset from panel top (px)
            ax.text(814.5 / (x1 - x0), 1 - yc / h, txt, transform=ax.transAxes,
                    ha='left', va='baseline', color=col, fontsize=20,
                    fontweight='bold', zorder=6)
        # y label
        fig.text((x0 - 80) / W, 1 - (top + bot) / 2 / H, component_labels[r],
                 rotation=90, ha='center', va='center', fontsize=19,
                 fontweight='bold', zorder=1)
    # title
    fig.text((x0 + x1) / 2 / W, 1 - 27 / H, panel_title, ha='center',
             va='center', fontsize=19, fontweight='bold')
    # bottom labels
    axb = axes_list[-1]
    tr = blended_transform_factory(axb.transData, fig.transFigure)
    for k in range(6):
        axb.text(k + 0.5, 1 - 762 / H, day_labels[k], transform=tr, ha='center',
                 va='center', fontsize=16.5, fontweight='bold', clip_on=False)
        axb.text(k + 0.5, 1 - 807 / H, duration_labels[k], transform=tr,
                 ha='center', va='center', fontsize=16.5, fontweight='bold',
                 clip_on=False)

# ---------------- "Statistics: mean ± std" banner ----------------
renderer = fig.canvas.get_renderer()


def fit(t, target_w):
    w = t.get_window_extent(renderer).width
    t.set_fontsize(t.get_fontsize() * target_w / w)


base = 1 - 35 / H
t1 = fig.text(1895 / W, base, "Statistics:", color='red', fontsize=32,
              fontweight='bold', family=['Lato', 'DejaVu Sans'], va='baseline')
fit(t1, 177)
t2 = fig.text(2096 / W, base, "mean", color='red', fontsize=32,
              fontweight='bold', family=['Liberation Serif', 'DejaVu Serif'],
              va='baseline')
fit(t2, 104)
t3 = fig.text(2213 / W, base, "\u00b1", color='red', fontsize=32,
              fontweight='bold', family=['Liberation Serif', 'DejaVu Serif'],
              va='baseline')
t4 = fig.text(2257 / W, base, "std", color='red', fontsize=32,
              fontweight='bold', style='italic',
              family=['DejaVu Serif'], va='baseline')
fit(t4, 69)

# ---------------- block arrow ----------------
arrow_px = [(1152, 135), (1242, 135), (1242, 115), (1283, 157.5),
            (1242, 200), (1242, 178), (1152, 178)]
arrow = Polygon([(x / W, 1 - y / H) for x, y in arrow_px], closed=True,
                transform=fig.transFigure, facecolor='#4f81bd',
                edgecolor='#385d8a', lw=1.8, zorder=10)
fig.add_artist(arrow)

fig.savefig('out.png', dpi=DPI, facecolor='white')
